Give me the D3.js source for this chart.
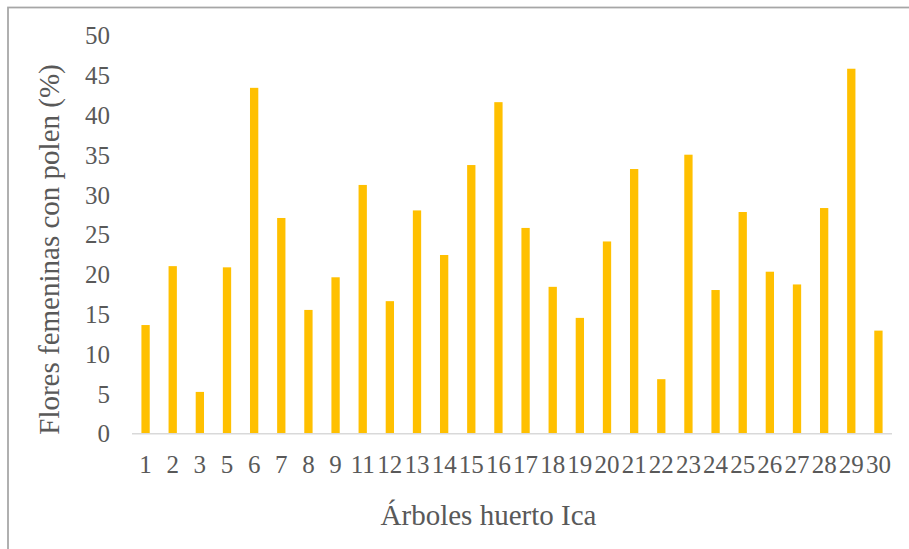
<!DOCTYPE html>
<html>
<head>
<meta charset="utf-8">
<script src="https://cdn.jsdelivr.net/npm/d3@7"></script>
<style>
html,body{margin:0;padding:0;background:#fff;}
svg{display:block;}
text{font-family:"Liberation Serif","Times New Roman",serif;fill:#595959;}
</style>
</head>
<body>
<svg id="chart" width="909" height="549"></svg>
<script>
const categories = ["1","2","3","5","6","7","8","9","11","12","13","14","15","16","17","18","19","20","21","22","23","24","25","26","27","28","29","30"];
const values = [13.6,21.0,5.2,20.85,43.4,27.05,15.5,19.6,31.2,16.6,28.0,22.4,33.7,41.6,25.8,18.4,14.5,24.1,33.2,6.8,35.0,18.0,27.8,20.3,18.7,28.3,45.8,12.9];
const yTicks = [0,5,10,15,20,25,30,35,40,45,50];
const xTitle = "Árboles huerto Ica";
const yTitle = "Flores femeninas con polen (%)";

const svg = d3.select("#chart");
const serif = "'Liberation Serif','Times New Roman',serif";

// chart frame
svg.append("rect")
  .attr("x", 8).attr("y", 7.5)
  .attr("width", 920).attr("height", 560)
  .attr("fill", "none").attr("stroke", "#a6a6a6").attr("stroke-width", 1.75);

const x = d3.scaleBand()
  .domain(categories)
  .range([132, 892])
  .paddingInner(0.694)
  .paddingOuter(0.347);

const y = d3.scaleLinear().domain([0, 50]).range([433.3, 35.3]);

// bars
svg.append("g").selectAll("rect")
  .data(values)
  .join("rect")
  .attr("x", (d, i) => x(categories[i]))
  .attr("width", x.bandwidth())
  .attr("y", d => y(d))
  .attr("height", d => y(0) - y(d))
  .attr("fill", "#ffc000");

// x axis line
svg.append("line")
  .attr("x1", 132).attr("x2", 892)
  .attr("y1", y(0) + 0.5).attr("y2", y(0) + 0.5)
  .attr("stroke", "#d9d9d9").attr("stroke-width", 1.5);

// y tick labels
const yAxis = d3.axisLeft(y).tickValues(yTicks).tickSize(0).tickPadding(0);
const gy = svg.append("g").attr("transform", "translate(110,0)").call(yAxis)
  .attr("font-family", serif).attr("font-size", 25);
gy.select(".domain").remove();
gy.selectAll("text")
  .attr("dy", "0.34em")
  .style("fill", "#595959");

// x tick labels
const xAxis = d3.axisBottom(x).tickSize(0).tickPadding(0);
const gx = svg.append("g").call(xAxis)
  .attr("font-family", serif).attr("font-size", 25);
gx.select(".domain").remove();
gx.selectAll("text")
  .attr("y", 472.5)
  .attr("dy", 0)
  .style("fill", "#595959");

// x title
svg.append("text")
  .attr("x", 488.5).attr("y", 525)
  .attr("text-anchor", "middle")
  .attr("font-size", "29px")
  .text(xTitle);

// y title
svg.append("text")
  .attr("transform", "translate(58.5,249.5) rotate(-90)")
  .attr("text-anchor", "middle")
  .attr("font-size", "29px")
  .text(yTitle);
</script>
</body>
</html>
